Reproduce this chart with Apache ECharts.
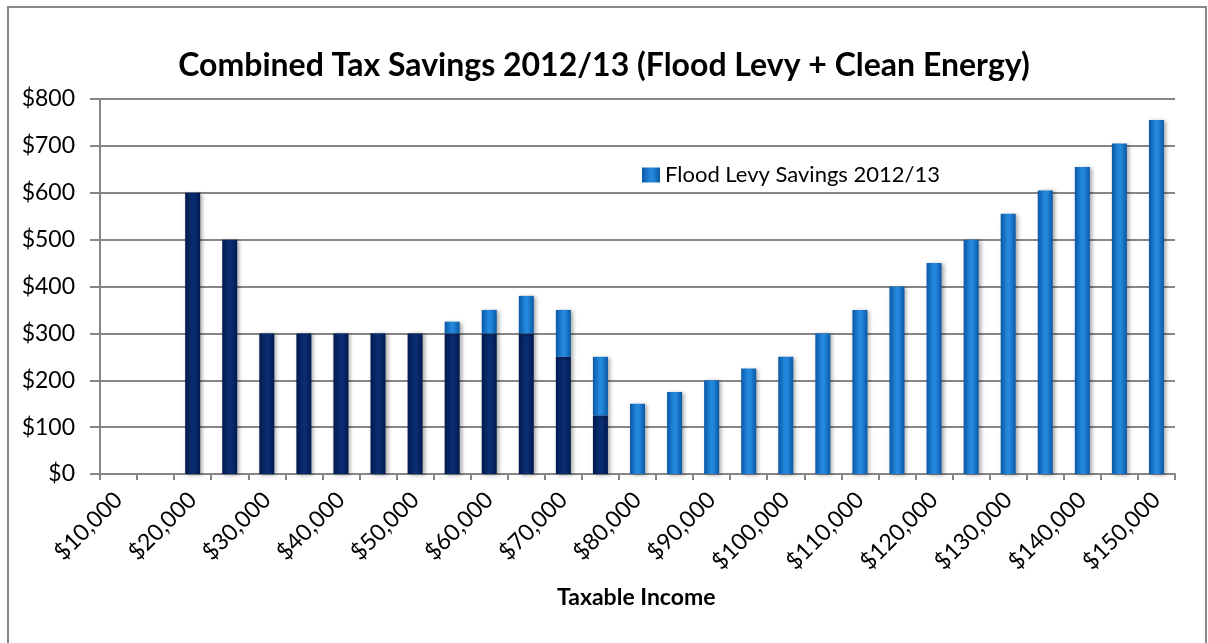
<!DOCTYPE html>
<html>
<head>
<meta charset="utf-8">
<script src="https://cdn.jsdelivr.net/npm/echarts@6/dist/echarts.min.js"></script>
<style>html,body{margin:0;padding:0;background:#fff}#c{width:1208px;height:643px}</style>
</head>
<body>
<div id="c"></div>
<script>
var categories = ['$10,000','$15,000','$20,000','$25,000','$30,000','$35,000','$40,000','$45,000','$50,000','$55,000','$60,000','$65,000','$70,000','$75,000','$80,000','$85,000','$90,000','$95,000','$100,000','$105,000','$110,000','$115,000','$120,000','$125,000','$130,000','$135,000','$140,000','$145,000','$150,000'];
var cleanEnergy = [null,null,600,500,300,300,300,300,300,300,300,300,250,125,null,null,null,null,null,null,null,null,null,null,null,null,null,null,null];
var floodLevy = [null,null,null,null,null,null,null,null,null,25,50,80,100,125,150,175,200,225,250,300,350,400,450,500,555,605,655,705,755];
var yTicks = [0,100,200,300,400,500,600,700,800];

var FONT = 'Lato, "Open Sans", sans-serif';
function grad(edge, mid) {
  return new echarts.graphic.LinearGradient(0,0,1,0,[
    {offset:0,color:edge},{offset:0.45,color:mid},{offset:0.6,color:mid},{offset:1,color:edge}
  ]);
}
var chart = echarts.init(document.getElementById('c'), null, {renderer:'canvas'});
chart.setOption({
  animation:false,
  backgroundColor:'#fff',
  title:{text:'Combined Tax Savings 2012/13 (Flood Levy + Clean Energy)',left:'center',top:45,
    textStyle:{fontFamily:FONT,fontSize:32,fontWeight:'bold',color:'#000'}},
  legend:{data:['Flood Levy Savings 2012/13'],left:637,top:159,itemWidth:18,itemHeight:15,itemGap:6,
    textStyle:{fontFamily:FONT,fontSize:22,color:'#000'},icon:'rect'},
  grid:{left:100,right:33,top:99,bottom:169,containLabel:false},
  xAxis:{type:'category',data:categories,
    axisLine:{lineStyle:{color:'#868686',width:2}},
    axisTick:{show:true,length:6,lineStyle:{color:'#868686',width:2},interval:0},
    axisLabel:{interval:1,rotate:45,fontFamily:FONT,fontSize:23,color:'#000',margin:22},
    splitLine:{show:false}},
  yAxis:{type:'value',min:yTicks[0],max:yTicks[yTicks.length-1],interval:100,
    axisLine:{show:true,lineStyle:{color:'#868686',width:2}},
    axisTick:{show:true,length:10,lineStyle:{color:'#868686',width:2}},
    axisLabel:{fontFamily:FONT,fontSize:23,color:'#000',margin:25,formatter:function(v){return '$'+v;}},
    splitLine:{lineStyle:{color:'#868686',width:2}}},
  series:[
    {name:'Clean Energy Savings 2012/13',type:'bar',stack:'t',data:cleanEnergy,barWidth:15,
      itemStyle:{color:grad('#001a4e','#0a2c70'),shadowColor:'rgba(0,0,0,0.35)',shadowBlur:4,shadowOffsetX:2,shadowOffsetY:1}},
    {name:'Flood Levy Savings 2012/13',type:'bar',stack:'t',data:floodLevy,barWidth:15,
      itemStyle:{color:grad('#0a58a6','#2388dc'),shadowColor:'rgba(0,0,0,0.35)',shadowBlur:4,shadowOffsetX:2,shadowOffsetY:1}}
  ],
  graphic:[
    {type:'rect',shape:{x:8,y:7,width:1198,height:660},style:{fill:'none',stroke:'#888',lineWidth:2},silent:true,z:-1},
    {type:'text',left:557,top:586,style:{text:'Taxable Income',fontFamily:FONT,fontSize:23,fontWeight:'bold',fill:'#000'}}
  ]
});
</script>
</body>
</html>
